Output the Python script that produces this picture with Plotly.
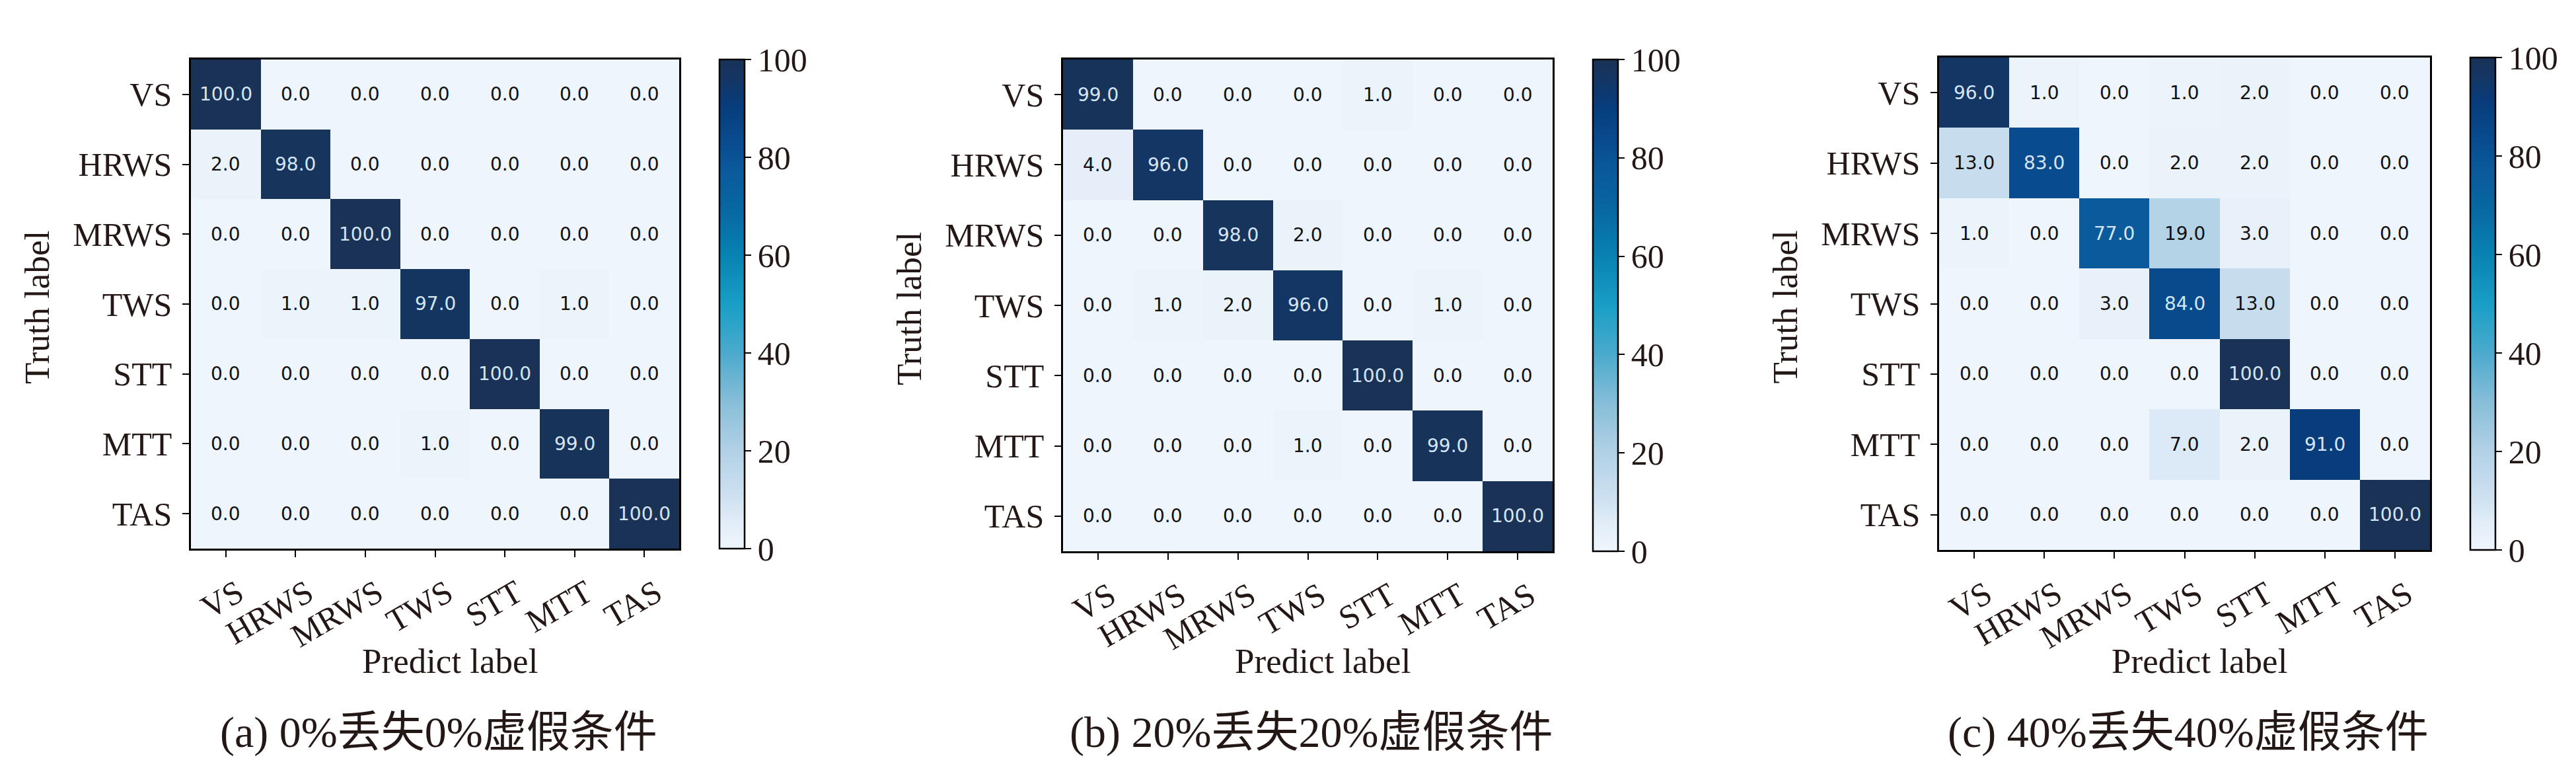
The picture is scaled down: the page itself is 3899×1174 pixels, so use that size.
import plotly.graph_objects as go

# ---------------- data ----------------
labels = ["VS", "HRWS", "MRWS", "TWS", "STT", "MTT", "TAS"]

cm_a = [
    [100, 0, 0, 0, 0, 0, 0],
    [2, 98, 0, 0, 0, 0, 0],
    [0, 0, 100, 0, 0, 0, 0],
    [0, 1, 1, 97, 0, 1, 0],
    [0, 0, 0, 0, 100, 0, 0],
    [0, 0, 0, 1, 0, 99, 0],
    [0, 0, 0, 0, 0, 0, 100],
]
cm_b = [
    [99, 0, 0, 0, 1, 0, 0],
    [4, 96, 0, 0, 0, 0, 0],
    [0, 0, 98, 2, 0, 0, 0],
    [0, 1, 2, 96, 0, 1, 0],
    [0, 0, 0, 0, 100, 0, 0],
    [0, 0, 0, 1, 0, 99, 0],
    [0, 0, 0, 0, 0, 0, 100],
]
cm_c = [
    [96, 1, 0, 1, 2, 0, 0],
    [13, 83, 0, 2, 2, 0, 0],
    [1, 0, 77, 19, 3, 0, 0],
    [0, 0, 3, 84, 13, 0, 0],
    [0, 0, 0, 0, 100, 0, 0],
    [0, 0, 0, 7, 2, 91, 0],
    [0, 0, 0, 0, 0, 0, 100],
]
captions = ["(a) 0%丢失0%虚假条件", "(b) 20%丢失20%虚假条件", "(c) 40%丢失40%虚假条件"]
x_title = "Predict label"
y_title = "Truth label"
cbar_ticks = [0, 20, 40, 60, 80, 100]

# ---------------- styling ----------------
W, H = 3899, 1174
SERIF = "Liberation Serif, Times New Roman, serif"
CAPFONT = "Liberation Serif, Noto Sans CJK SC, serif"
CELLFONT = "DejaVu Sans, sans-serif"
INK = "#231815"

colorscale = [
    [0.00, "rgb(238,245,252)"],
    [0.05, "rgb(228,238,248)"],
    [0.10, "rgb(208,226,242)"],
    [0.20, "rgb(178,209,230)"],
    [0.30, "rgb(135,190,216)"],
    [0.40, "rgb(75,170,205)"],
    [0.50, "rgb(25,158,198)"],
    [0.60, "rgb(8,130,178)"],
    [0.70, "rgb(8,102,160)"],
    [0.77, "rgb(10,90,156)"],
    [0.83, "rgb(8,76,143)"],
    [0.91, "rgb(8,60,122)"],
    [0.96, "rgb(20,54,100)"],
    [1.00, "rgb(25,50,86)"],
]

# panel geometry in pixels: (left, right, top, bottom, cbar_left)
panels = [
    (281, 1020, 82, 822, 1081),
    (1601, 2342, 82, 826, 2403),
    (2927, 3670, 79, 824, 3731),
]
cbar_w = 38

def fx(p):
    return p / W

def fy(p):
    return 1 - p / H

fig = go.Figure()
annotations = []
mats = [cm_a, cm_b, cm_c]

for i, (cm, cap, geo) in enumerate(zip(mats, captions, panels)):
    l, r, t, b, cl = geo
    sfx = "" if i == 0 else str(i + 1)
    xa, ya = "x" + sfx, "y" + sfx
    fig.add_trace(go.Heatmap(
        z=cm, x=labels, y=labels, xaxis=xa, yaxis=ya,
        zmin=0, zmax=100, colorscale=colorscale,
        xgap=0, ygap=0, hoverinfo="skip",
        colorbar=dict(
            x=fx(cl), xanchor="left", xref="paper",
            y=fy(b), yanchor="bottom", yref="paper",
            len=(b - t) / H, lenmode="fraction",
            thickness=cbar_w, thicknessmode="pixels",
            outlinewidth=2.5, outlinecolor="black",
            tickvals=cbar_ticks, ticks="outside", ticklen=9, tickwidth=2,
            tickcolor="black",
            tickfont=dict(family=SERIF, size=50, color=INK),
            xpad=0, ypad=0,
        ),
    ))
    axis_common = dict(
        showline=True, linewidth=2.5, linecolor="black", mirror=True,
        ticks="outside", ticklen=10, tickwidth=2, tickcolor="black",
        tickfont=dict(family=SERIF, size=50, color=INK),
        showgrid=False, zeroline=False, type="category",
    )
    fig.layout["xaxis" + sfx] = dict(
        axis_common, domain=[fx(l), fx(r)], anchor=ya, tickangle=-30,
        ticklabelshift=18, ticklabelstandoff=6,
    )
    fig.layout["yaxis" + sfx] = dict(
        axis_common, domain=[fy(b), fy(t)], anchor=xa, autorange="reversed",
        ticklabelstandoff=6,
    )
    # cell values
    for ri, row in enumerate(cm):
        for ci, v in enumerate(row):
            annotations.append(dict(
                x=labels[ci], y=labels[ri], xref=xa, yref=ya,
                text=f"{v:.1f}", showarrow=False,
                font=dict(family=CELLFONT, size=28,
                          color="#d4e5f5" if v > 50 else "#111111"),
            ))
    cx = (l + r) / 2
    annotations.append(dict(
        x=fx(cx + 22), y=fy(992), xref="paper", yref="paper",
        text=x_title, showarrow=False, xanchor="center", yanchor="middle",
        font=dict(family=SERIF, size=53, color=INK),
    ))
    annotations.append(dict(
        x=fx(l - 233), y=fy((t + b) / 2 + 5), xref="paper", yref="paper",
        text=y_title, showarrow=False, textangle=-90,
        xanchor="center", yanchor="middle",
        font=dict(family=SERIF, size=53, color=INK),
    ))
    annotations.append(dict(
        x=fx(cx + 5), y=fy(1100), xref="paper", yref="paper",
        text=cap, showarrow=False, xanchor="center", yanchor="middle",
        font=dict(family=CAPFONT, size=66, color=INK),
    ))

fig.update_layout(
    width=W, height=H,
    margin=dict(l=0, r=0, t=0, b=0),
    paper_bgcolor="white", plot_bgcolor="white",
    annotations=annotations,
    showlegend=False,
)

fig.write_html("out.html")
